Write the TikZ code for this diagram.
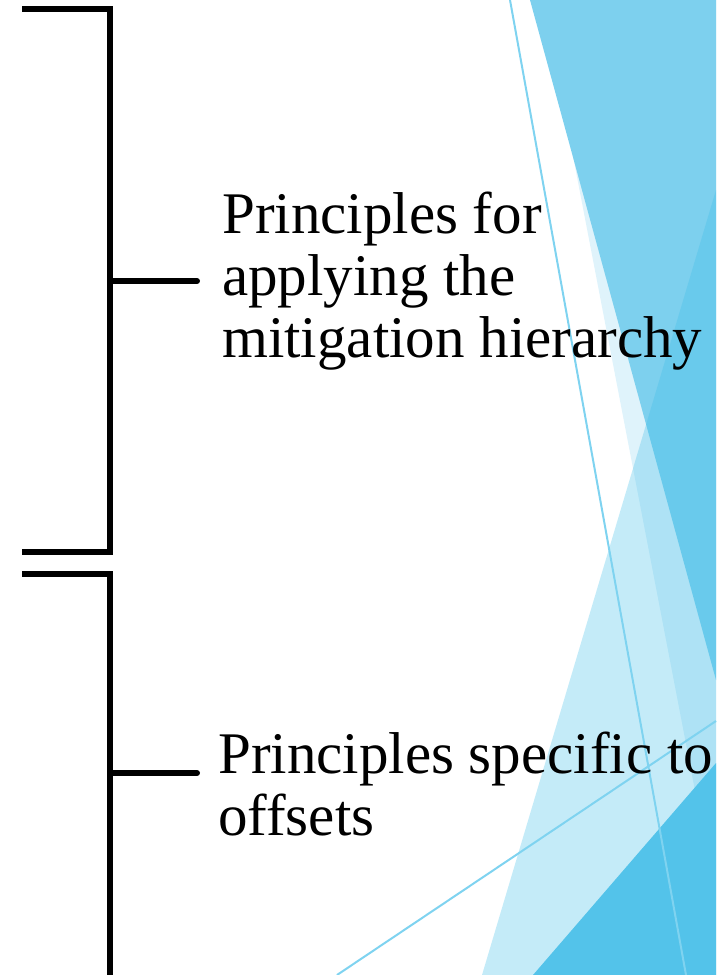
\documentclass[tikz,border=0pt]{standalone}
\usepackage{fontspec}
\setmainfont{Liberation Serif}
\usepackage{tikz}
\usetikzlibrary{arrows.meta}

\definecolor{facetPale}{HTML}{DFF3FB}
\definecolor{facetMid}{HTML}{7DD0EE}
\definecolor{facetSky}{HTML}{3DBDE8}
\definecolor{facetDeep}{HTML}{53C3EA}
\definecolor{facetLine}{HTML}{7FD3F0}

\begin{document}
\begin{tikzpicture}[x=1pt,y=-1pt]
	\useasboundingbox (0,0) rectangle (716,975);
	% background facets
	\begin{scope}
		[
			facet/.style={fill=#1},
			thinline/.style={draw=facetLine, line width=2pt},
		]
		\fill[facet=facetPale] (543,0) -- (716,0) -- (716,900) -- cycle;
		\fill[facet=facetMid] (530,0) -- (716,0) -- (716,680) -- cycle;
		\fill[facet=facetSky, fill opacity=0.3] (716,190) -- (716,975) -- (482,975) -- cycle;
		\fill[facet=facetDeep] (533,975) -- (716,763) -- (716,975) -- cycle;

		\coordinate (lineAtop) at (510,0);
		\coordinate (lineAbot) at (686,975);
		\coordinate (lineBleft) at (337,975);
		\coordinate (lineBright) at (716,721);
		\draw[thinline] (lineAtop) -- (lineAbot);
		\draw[thinline] (lineBleft) -- (lineBright);
	\end{scope}

	\begin{scope}
		[
			bracket/.style={draw, line width=6pt, line join=miter},
			tick/.style={draw, line width=6pt, line cap=round},
			item/.style={anchor=base west, align=left, inner sep=0pt,
				font=\fontsize{59}{62}\selectfont},
		]
		\coordinate (topA) at (22,9);
		\coordinate (cornerA) at (110,9);
		\coordinate (cornerAb) at (110,552);
		\coordinate (botA) at (22,552);
		\coordinate (midA) at (110,281);
		\coordinate (tickA) at (197,281);

		\coordinate (topB) at (22,573.5);
		\coordinate (cornerB) at (110,573.5);
		\coordinate (botB) at (110,980);
		\coordinate (midB) at (110,773);
		\coordinate (tickB) at (197,773);

		% base anchor sits on the last line
		\node(mitig)[item] at (222,357) {Principles for\\applying the\\mitigation hierarchy};
		\node(offs)[item] at (218,835) {Principles specific to\\offsets};

		\draw[bracket] (topA) -- (cornerA) -- (cornerAb) -- (botA);
		\draw[tick] (midA) -- (tickA);
		\draw[bracket] (topB) -- (cornerB) -- (botB);
		\draw[tick] (midB) -- (tickB);
	\end{scope}
\end{tikzpicture}
\end{document}
